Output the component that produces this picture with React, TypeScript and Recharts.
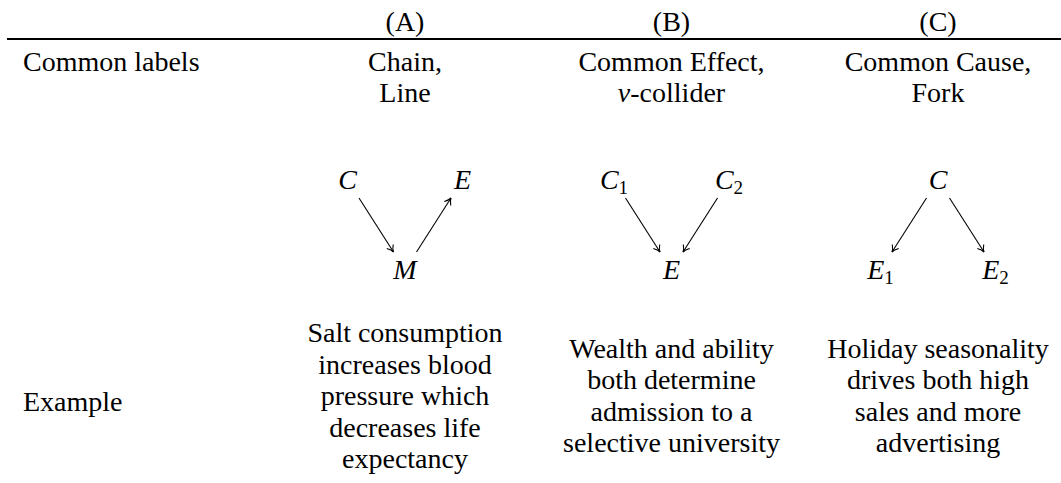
import React from "react";
import { ScatterChart, Scatter, XAxis, YAxis, ReferenceLine } from "recharts";

const W = 1061;
const H = 483;

// table content
const headers = ["(A)", "(B)", "(C)"];
const rowLabels = ["Common labels", "Example"];
const commonLabels = [
  ["Chain,", "Line"],
  ["Common Effect,", "$v$-collider"],
  ["Common Cause,", "Fork"],
];
const examples = [
  ["Salt consumption", "increases blood", "pressure which", "decreases life", "expectancy"],
  ["Wealth and ability", "both determine", "admission to a", "selective university"],
  ["Holiday seasonality", "drives both high", "sales and more", "advertising"],
];

// graph nodes: u = horizontal slot (-1, 0, 1), v = level (0 top, 1 bottom)
const nodesA = [
  { id: "C", name: "C", sub: "", u: -1, v: 0 },
  { id: "E", name: "E", sub: "", u: 1, v: 0 },
  { id: "M", name: "M", sub: "", u: 0, v: 1 },
];
const edgesA = [["C", "M"], ["M", "E"]];

const nodesB = [
  { id: "C1", name: "C", sub: "1", u: -1, v: 0 },
  { id: "C2", name: "C", sub: "2", u: 1, v: 0 },
  { id: "E", name: "E", sub: "", u: 0, v: 1 },
];
const edgesB = [["C1", "E"], ["C2", "E"]];

const nodesC = [
  { id: "C", name: "C", sub: "", u: 0, v: 0 },
  { id: "E1", name: "E", sub: "1", u: -1, v: 1 },
  { id: "E2", name: "E", sub: "2", u: 1, v: 1 },
];
const edgesC = [["C", "E1"], ["C", "E2"]];

const diagrams = [
  { nodes: nodesA, edges: edgesA },
  { nodes: nodesB, edges: edgesB },
  { nodes: nodesC, edges: edgesC },
];

// layout: x in column units (A=1, B=2, C=3), y in pixel rows
const X_MIN = -0.5197;
const X_MAX = 3.4615;
const SLOT = 0.2158;
const LABEL_X = -0.4334;
const RULE_X0 = -0.4934;

const HEADER_Y = 31;
const RULE_Y = 39;
const LABEL_Y = 71;
const LINE_STEP = 31;
const NODE_Y = 180;
const NODE_GAP = 90;
const EXAMPLE_MID = 405;
const EXAMPLE_STEP = 31.5;
const EXAMPLE_LABEL_Y = 411;

const SERIF = "Liberation Serif";
const FONT = 28;
const SUB_FONT = 19;

const textPoints = [
  ...headers.map((t, i) => ({ x: i + 1, y: HEADER_Y, text: t, anchor: "middle" })),
  { x: LABEL_X, y: LABEL_Y, text: rowLabels[0], anchor: "start" },
  { x: LABEL_X, y: EXAMPLE_LABEL_Y, text: rowLabels[1], anchor: "start" },
  ...commonLabels.flatMap((lines, i) =>
    lines.map((t, j) => ({ x: i + 1, y: LABEL_Y + j * LINE_STEP, text: t, anchor: "middle" }))
  ),
  ...examples.flatMap((lines, i) =>
    lines.map((t, j) => ({
      x: i + 1,
      y: EXAMPLE_MID + (j - (lines.length - 1) / 2) * EXAMPLE_STEP,
      text: t,
      anchor: "middle",
    }))
  ),
];

const nodePoints = diagrams.flatMap((d, i) =>
  d.nodes.map((n) => ({ x: i + 1 + n.u * SLOT, y: NODE_Y + n.v * NODE_GAP, name: n.name, sub: n.sub }))
);

const edgeSegments = diagrams.flatMap((d, i) =>
  d.edges.map(([a, b]) => {
    const na = d.nodes.find((n) => n.id === a)!;
    const nb = d.nodes.find((n) => n.id === b)!;
    const x1 = i + 1 + na.u * SLOT;
    const y1 = NODE_Y + na.v * NODE_GAP;
    const x2 = i + 1 + nb.u * SLOT;
    const y2 = NODE_Y + nb.v * NODE_GAP;
    const t0 = 0.2;
    const t1 = 0.8;
    return {
      key: `${i}-${a}-${b}`,
      p1: { x: x1 + (x2 - x1) * t0, y: y1 + (y2 - y1) * t0 },
      p2: { x: x1 + (x2 - x1) * t1, y: y1 + (y2 - y1) * t1 },
    };
  })
);

// eslint-disable-next-line @typescript-eslint/no-explicit-any
function TextShape(props: any) {
  const { cx, cy, payload } = props;
  const parts = String(payload.text).split("$");
  return (
    <text
      x={cx}
      y={cy}
      textAnchor={payload.anchor}
      style={{ fontFamily: SERIF, fontSize: FONT }}
      fill="#000"
    >
      {parts.map((p: string, k: number) => (
        <tspan key={k} style={{ fontFamily: SERIF, fontStyle: k % 2 ? "italic" : "normal" }}>
          {p}
        </tspan>
      ))}
    </text>
  );
}

// eslint-disable-next-line @typescript-eslint/no-explicit-any
function NodeShape(props: any) {
  const { cx, cy, payload } = props;
  return (
    <text x={cx} y={cy + 9} textAnchor="middle" style={{ fontFamily: SERIF, fontSize: FONT }} fill="#000">
      <tspan style={{ fontFamily: SERIF, fontStyle: "italic" }}>{payload.name}</tspan>
      {payload.sub && (
        <tspan style={{ fontFamily: SERIF, fontSize: SUB_FONT }} dy={5}>
          {payload.sub}
        </tspan>
      )}
    </text>
  );
}

// eslint-disable-next-line @typescript-eslint/no-explicit-any
function ArrowShape(props: any) {
  const { x1, y1, x2, y2 } = props;
  const len = Math.hypot(x2 - x1, y2 - y1) || 1;
  const dx = (x2 - x1) / len;
  const dy = (y2 - y1) / len;
  const nx = -dy;
  const ny = dx;
  const L = 6.5;
  const Wb = 3.8;
  const b1 = [x2 - L * dx + Wb * nx, y2 - L * dy + Wb * ny];
  const b2 = [x2 - L * dx - Wb * nx, y2 - L * dy - Wb * ny];
  const c1 = [x2 - L * 0.45 * dx + Wb * 0.15 * nx, y2 - L * 0.45 * dy + Wb * 0.15 * ny];
  const c2 = [x2 - L * 0.45 * dx - Wb * 0.15 * nx, y2 - L * 0.45 * dy - Wb * 0.15 * ny];
  return (
    <g>
      <line x1={x1} y1={y1} x2={x2} y2={y2} stroke="#000" strokeWidth={1.1} />
      <path
        d={`M${b1[0]},${b1[1]} Q${c1[0]},${c1[1]} ${x2},${y2} Q${c2[0]},${c2[1]} ${b2[0]},${b2[1]}`}
        fill="none"
        stroke="#000"
        strokeWidth={1.1}
      />
    </g>
  );
}

export default function App() {
  return (
    <div
      style={{
        position: "absolute",
        left: 0,
        top: 0,
        width: W,
        height: H,
        background: "#fff",
        fontFamily: SERIF,
      }}
    >
      <ScatterChart
        width={W}
        height={H}
        margin={{ top: 0, right: 0, bottom: 0, left: 0 }}
        style={{ fontFamily: SERIF }}
      >
        <XAxis type="number" dataKey="x" domain={[X_MIN, X_MAX]} allowDataOverflow hide />
        <YAxis type="number" dataKey="y" domain={[0, H]} reversed allowDataOverflow hide />
        <ReferenceLine
          segment={[
            { x: RULE_X0, y: RULE_Y },
            { x: X_MAX, y: RULE_Y },
          ]}
          stroke="#000"
          strokeWidth={2}
          ifOverflow="visible"
        />
        {edgeSegments.map((s) => (
          <ReferenceLine key={s.key} segment={[s.p1, s.p2]} ifOverflow="visible" shape={ArrowShape} />
        ))}
        <Scatter data={textPoints} shape={TextShape} isAnimationActive={false} />
        <Scatter data={nodePoints} shape={NodeShape} isAnimationActive={false} />
      </ScatterChart>
    </div>
  );
}
